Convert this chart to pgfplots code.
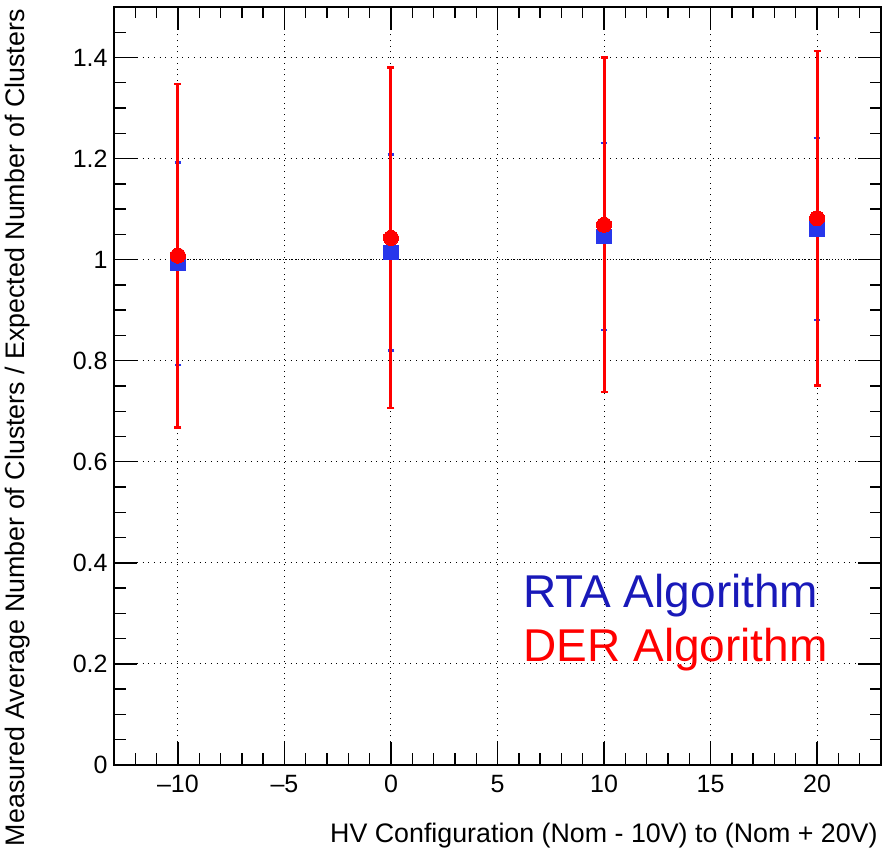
\documentclass[border=0pt]{standalone}
\usepackage{fontspec}
\setmainfont{Liberation Sans}
\usepackage{pgfplots}
\pgfplotsset{compat=1.18}
\definecolor{rtablue}{RGB}{40,55,235}
\definecolor{rtatext}{RGB}{25,25,185}
\definecolor{derred}{RGB}{255,0,0}
\pgfplotstableread{
x y e
-10 0.992 0.200
0 1.014 0.194
10 1.046 0.185
20 1.061 0.180
}\rtadata
\pgfplotstableread{
x y e
-10 1.008 0.340
0 1.043 0.337
10 1.069 0.331
20 1.082 0.331
}\derdata
\begin{document}
\begin{tikzpicture}
\useasboundingbox (-57pt,-44.5pt) rectangle (384pt,382.5pt);
\begin{axis}[
  at={(0,0)}, anchor=south west,
  scale only axis, width=383.5pt, height=379pt,
  xmin=-13, xmax=23, ymin=0, ymax=1.5,
  axis line style={line width=1pt},
  xtick={-10,-5,0,5,10,15,20},
  xticklabels={–10,–5,0,5,10,15,20},
  minor xtick={-12,-11,-9,-8,-7,-6,-4,-3,-2,-1,1,2,3,4,6,7,8,9,11,12,13,14,16,17,18,19,21,22},
  ytick={0,0.2,0.4,0.6,0.8,1,1.2,1.4},
  yticklabels={0,0.2,0.4,0.6,0.8,1,1.2,1.4},
  minor ytick={0.05,0.1,0.15,0.25,0.3,0.35,0.45,0.5,0.55,0.65,0.7,0.75,0.85,0.9,0.95,1.05,1.1,1.15,1.25,1.3,1.35,1.45},
  tick pos=both, xticklabel pos=lower, yticklabel pos=left,
  tick align=inside,
  major tick length=11.5pt, minor tick length=5.75pt,
  every tick/.style={black, line width=0.7pt},
  every minor tick/.style={black, line width=0.7pt},
  /pgf/number format/assume math mode=true,
  ticklabel style={font=\fontsize{12.5}{15}\selectfont},
  xticklabel style={inner sep=0pt, anchor=north, yshift=-5pt},
  yticklabel style={inner sep=0pt, anchor=east, xshift=-3pt},
  grid=major,
  major grid style={black, line width=0.5pt, dash pattern=on 0.5pt off 2.35pt},
  clip=false,
]
\addplot[black, line width=0.5pt, dash pattern=on 0.5pt off 1pt, forget plot] coordinates {(-10,1) (23,1)};
\addplot[only marks, mark=square*, mark size=3.6pt, mark options={fill=rtablue, draw=rtablue, line width=0pt},
  error bars/.cd, y dir=both, y explicit, error mark=-,
  error bar style={rtablue, line width=1pt},
  error mark options={rotate=90, rtablue, line width=1.2pt, mark size=1.7pt}]
  table[x=x, y=y, y error=e] {\rtadata};
\addplot[only marks, mark=*, mark size=3.8pt, mark options={fill=derred, draw=derred, line width=0pt},
  error bars/.cd, y dir=both, y explicit, error mark=-,
  error bar style={derred, line width=1.5pt},
  error mark options={rotate=90, derred, line width=1.2pt, mark size=1.75pt}]
  table[x=x, y=y, y error=e] {\derdata};
\node[anchor=base west, inner sep=0pt, text=rtatext, font=\fontsize{23}{27}\selectfont] at (axis cs:6.2,0.3113) {RTA Algorithm};
\node[anchor=base west, inner sep=0pt, text=derred, font=\fontsize{23}{27}\selectfont] at (axis cs:6.2,0.2042) {DER Algorithm};
\end{axis}
\node[rotate=90, anchor=base east, inner sep=0pt, font=\fontsize{13.4}{16}\selectfont] at (-44.5pt,378pt) {Measured Average Number of Clusters / Expected Number of Clusters};
\node[anchor=base east, inner sep=0pt, font=\fontsize{13.4}{16}\selectfont] at (382pt,-39pt) {HV Configuration (Nom - 10V) to (Nom + 20V)};
\end{tikzpicture}
\end{document}
